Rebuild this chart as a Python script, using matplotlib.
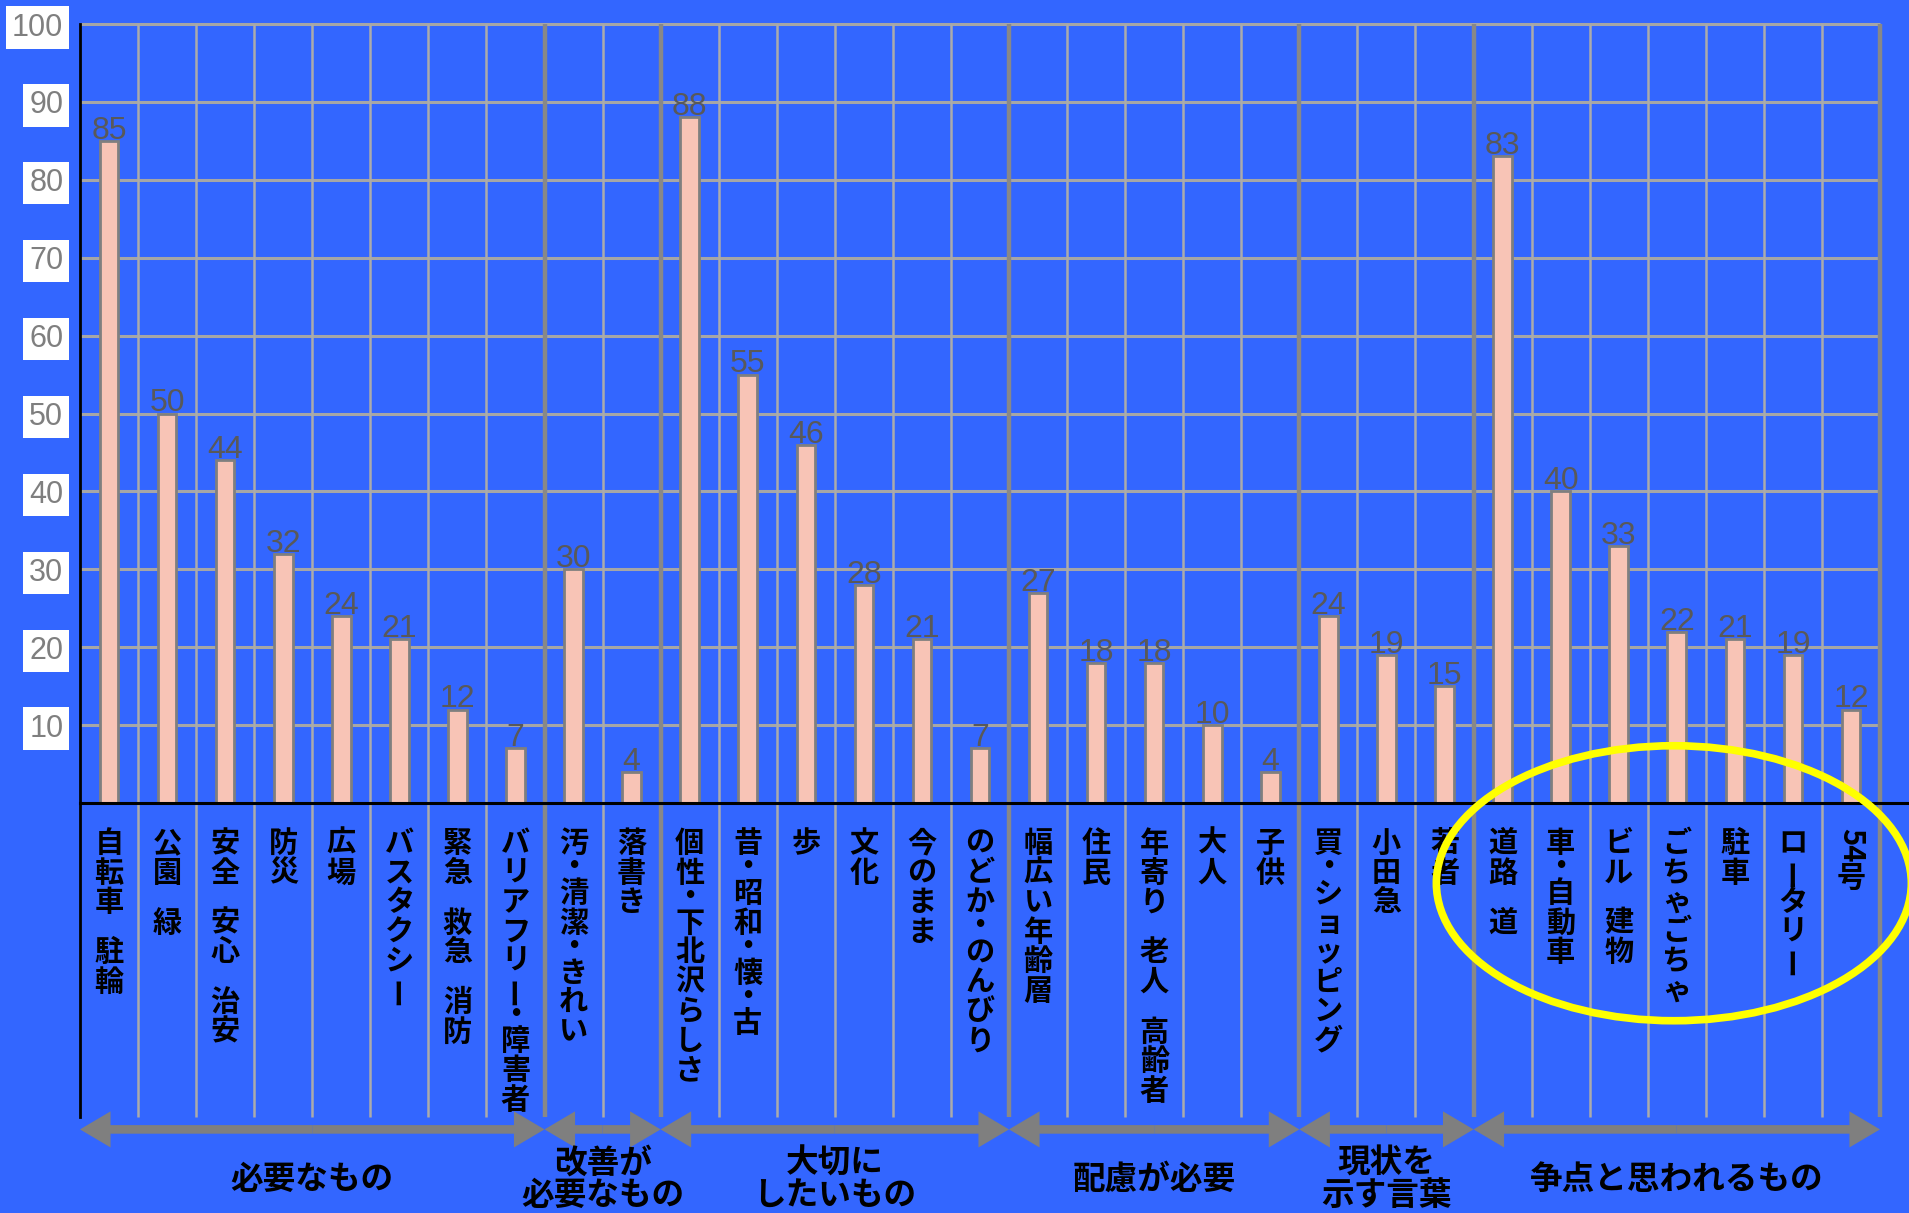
import re
import matplotlib
matplotlib.use('Agg')
import matplotlib.pyplot as plt
from matplotlib.patches import Ellipse

plt.rcParams['font.family'] = ['Noto Sans CJK JP', 'DejaVu Sans']

# data
categories = ['自転車 駐輪', '公園 緑', '安全 安心 治安', '防災', '広場', 'バスタクシー',
              '緊急 救急 消防', 'バリアフリー・障害者',
              '汚・清潔・きれい', '落書き',
              '個性・下北沢らしさ', '昔・昭和・懐・古', '歩', '文化', '今のまま', 'のどか・のんびり',
              '幅広い年齢層', '住民', '年寄り 老人 高齢者', '大人', '子供',
              '買・ショッピング', '小田急', '若者',
              '道路 道', '車・自動車', 'ビル 建物', 'ごちゃごちゃ', '駐車', 'ロータリー', '54号']
values = [85, 50, 44, 32, 24, 21, 12, 7,
          30, 4,
          88, 55, 46, 28, 21, 7,
          27, 18, 18, 10, 4,
          24, 19, 15,
          83, 40, 33, 22, 21, 19, 12]
groups = ['必要なもの', '改善が\n必要なもの', '大切に\nしたいもの', '配慮が必要',
          '現状を\n示す言葉', '争点と思われるもの']
group_sizes = [8, 2, 6, 5, 3, 7]
yticks = [10, 20, 30, 40, 50, 60, 70, 80, 90, 100]

BG = '#3366FF'
PX = 0.72  # points per pixel at dpi 100

fig = plt.figure(figsize=(19.09, 12.13), dpi=100, facecolor=BG)
ax = fig.add_axes([0.0419, 0.338, 0.9429, 0.6422])
ax.set_facecolor(BG)
n = len(values)
ax.set_xlim(-0.5, n - 0.5)
ax.set_ylim(0, 100)
for s in ax.spines.values():
    s.set_visible(False)
ax.set_xticks([])

# grid
low = -40.3
ax.hlines(yticks, -0.5, n - 0.5, color='#A6A6A6', lw=2.2, zorder=1, clip_on=False)
group_ends = []
k = 0
for size in group_sizes:
    k += size
    group_ends.append(k - 0.5)
light = [i + 0.5 for i in range(n) if i + 0.5 not in group_ends]
ax.vlines(light, low, 100, color='#ABABAB', lw=1.8, zorder=1, clip_on=False)
ax.vlines(group_ends, low, 100, color='#888888', lw=3.2, zorder=1, clip_on=False)
ax.plot([-0.5, -0.5], [100, low], color='black', lw=2, zorder=4, clip_on=False)
ax.plot([-0.5, n + 0.1], [0, 0], color='black', lw=2.2, zorder=4, clip_on=False)

# bars
x = list(range(n))
ax.bar(x, values, width=0.32, color='#F8C4B6', edgecolor='#7F7F7F', lw=2, zorder=3)
for i, v in enumerate(values):
    ax.annotate(str(v), (i, v), xytext=(0, 1.5), textcoords='offset points',
                ha='center', va='baseline', fontsize=23, color='#595959',
                family='Liberation Sans', annotation_clip=False)

# y tick labels in white boxes
ax.set_yticks(yticks)
ax.set_yticklabels([str(t) for t in yticks], fontsize=22, color='#7F7F7F',
                   family='Liberation Sans')
ax.tick_params(axis='y', length=0, pad=12)
for lbl in ax.get_yticklabels():
    lbl.set_bbox(dict(boxstyle='square,pad=0.2', fc='white', ec='none'))


# vertical category labels
def draw_vertical(xi, text):
    pos = 25
    em = 29.5
    for tok in re.findall(r'[0-9]+|.', text):
        if tok == ' ':
            pos += 0.7 * em
        elif tok == '・':
            ax.annotate('・', (xi, 0), xytext=(0, -(pos + 0.3 * em) * PX),
                        textcoords='offset points', ha='center', va='center',
                        fontsize=21, fontweight='bold', color='black', annotation_clip=False)
            pos += 0.7 * em
        elif tok.isdigit():
            ax.annotate(tok, (xi, 0), xytext=(0, -pos * PX), textcoords='offset points',
                        ha='center', va='top', rotation=-90, fontsize=21,
                        fontweight='bold', color='black', annotation_clip=False)
            pos += 0.6 * em * len(tok)
        else:
            rot = 90 if tok == 'ー' else 0
            ax.annotate(tok, (xi, 0), xytext=(0, -pos * PX), textcoords='offset points',
                        ha='center', va='top', rotation=rot, fontsize=21,
                        fontweight='bold', color='black', annotation_clip=False)
            pos += em


for i, c in enumerate(categories):
    draw_vertical(i, c)

# group arrows and labels
arrow_y = -41.9
start = -0.5
for name, size in zip(groups, group_sizes):
    end = start + size
    mid = (start + end) / 2
    for tip in (start, end):
        ax.annotate('', xy=(tip, arrow_y), xytext=(mid, arrow_y),
                    arrowprops=dict(arrowstyle='simple,head_length=22,head_width=26,tail_width=6.2',
                                    fc='#7F7F7F', ec='none', lw=0, shrinkA=0, shrinkB=0,
                                    mutation_scale=1),
                    annotation_clip=False)
    ax.text(mid, -48.3, name, ha='center', va='center', fontsize=23.5,
            fontweight='bold', color='black', linespacing=1.0, clip_on=False)
    start = end

# highlight ellipse
ax.add_patch(Ellipse((26.95, -10.3), 8.18, 35.3, fill=False, ec='#FFFF00', lw=5.5,
                     zorder=10, clip_on=False))

fig.savefig('out.png', dpi=100, facecolor=BG)
